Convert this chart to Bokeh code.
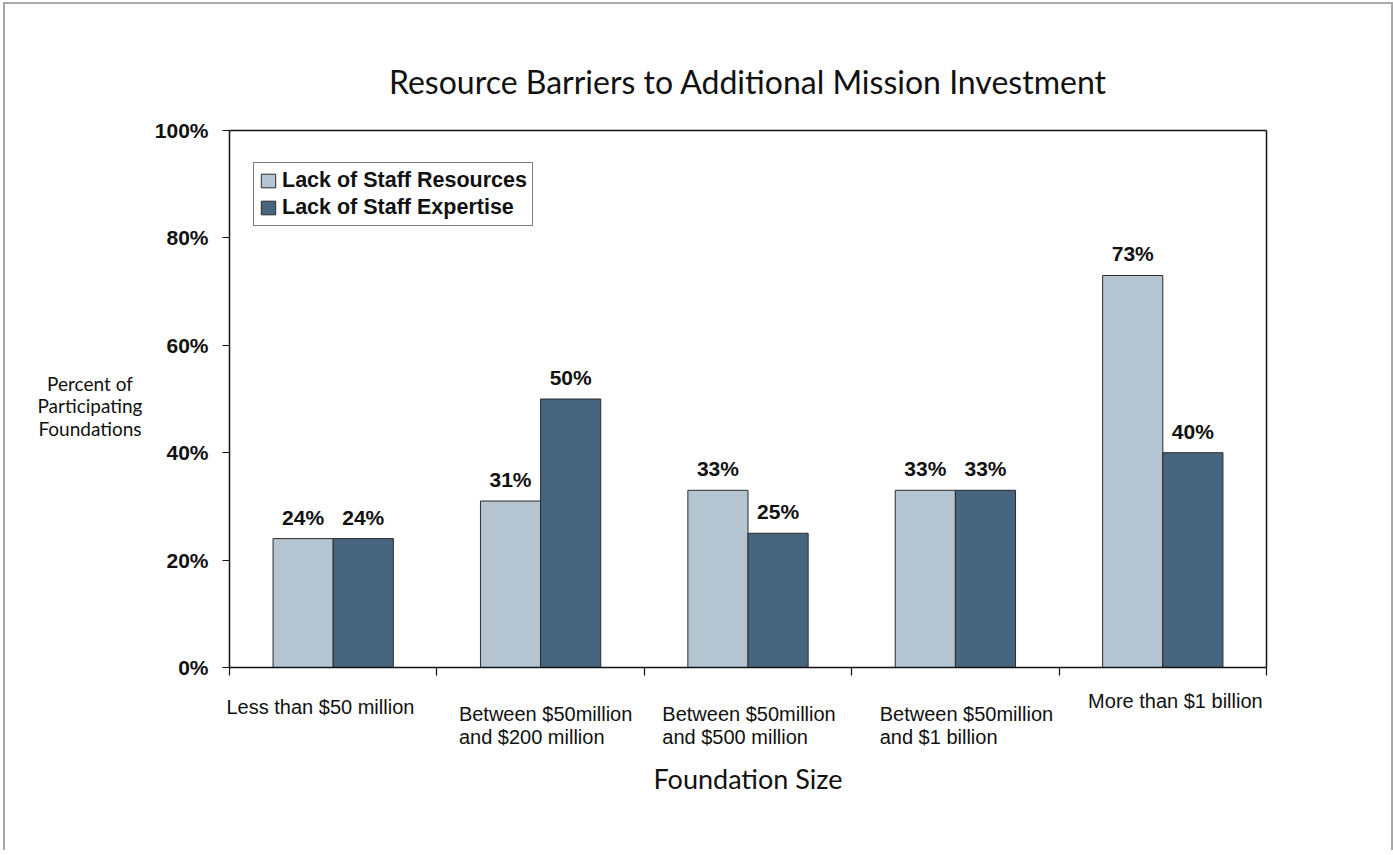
from bokeh.plotting import figure
from bokeh.models import (ColumnDataSource, Range1d, FixedTicker, Legend,
                          LegendItem, LabelSet, LinearAxis)
from bokeh.core.properties import value
from bokeh.embed import file_html
from bokeh.resources import INLINE

# ---------------- data ----------------
title_text = "Resource Barriers to Additional Mission Investment"
x_title = "Foundation Size"
y_title_lines = ["Percent of", "Participating", "Foundations"]
category_lines = [
    ["Less than $50 million"],
    ["Between $50million", "and $200 million"],
    ["Between $50million", "and $500 million"],
    ["Between $50million", "and $1 billion"],
    ["More than $1 billion"],
]
series_names = ["Lack of Staff Resources", "Lack of Staff Expertise"]
staff_resources = [24, 31, 33, 33, 73]
staff_expertise = [24, 50, 25, 33, 40]
y_ticks = [0, 20, 40, 60, 80, 100]
y_tick_labels = ["0%", "20%", "40%", "60%", "80%", "100%"]

# ---------------- styles / layout ----------------
W, H = 1393, 850
FL, FT = 229, 130          # plot area left / top (px)
FW, FH = 1037, 537         # plot area width / height (px)
LIGHT = "#b4c4d1"
DARK = "#47657f"
BAR_LINE = "#2b2b2b"
TXT = "#111111"
HUMANIST = "Lato"
ARIAL = "Liberation Sans"

n = len(category_lines)
px_x = FW / n            # px per category unit
px_y = FH / 100.0        # px per percent


def dx(px):
    return px / px_x


def dy(px):
    return px / px_y


x_range = Range1d(-dx(FL), n + dx(W - FL - FW))
y_range = Range1d(-dy(H - FT - FH), 100 + dy(FT))

p = figure(width=W, height=H, x_range=x_range, y_range=y_range,
           x_axis_type=None, y_axis_type=None, min_border=0,
           output_backend="svg", toolbar_location=None)
p.styles = {"background": "white",
            "box-shadow": "inset 3px 2px 0 0 #ffffff, inset 5px 4px 0 0 #a8a8a8, "
                          "inset -2px 0 0 0 #a8a8a8"}
p.grid.visible = False
p.background_fill_color = None
p.border_fill_color = None
p.outline_line_color = None


def style_axis(ax):
    ax.axis_line_color = TXT
    ax.axis_line_width = 1.5
    ax.major_tick_line_color = TXT
    ax.major_tick_line_width = 1.2
    ax.minor_tick_line_color = None
    ax.major_tick_in = 0


yaxis = LinearAxis(fixed_location=0, bounds=(0, 100),
                   ticker=FixedTicker(ticks=y_ticks),
                   major_label_overrides={t: l for t, l in zip(y_ticks, y_tick_labels)},
                   major_label_text_font=ARIAL, major_label_text_font_style="bold",
                   major_label_text_font_size="21px", major_label_text_color=TXT,
                   major_tick_out=7, major_label_standoff=14)
style_axis(yaxis)
p.add_layout(yaxis, "left")

xaxis = LinearAxis(fixed_location=0, bounds=(0, n),
                   ticker=FixedTicker(ticks=list(range(n + 1))),
                   major_label_text_font_size="0px", major_tick_out=8)
style_axis(xaxis)
p.add_layout(xaxis, "below")

top_axis = LinearAxis(fixed_location=100, bounds=(0, n), ticker=FixedTicker(ticks=[]),
                      major_label_text_font_size="0px")
style_axis(top_axis)
p.add_layout(top_axis, "above")

right_axis = LinearAxis(fixed_location=n, bounds=(0, 100), ticker=FixedTicker(ticks=[]),
                        major_label_text_font_size="0px")
style_axis(right_axis)
p.add_layout(right_axis, "right")

# bars
BAR_W = 0.29
xs_res = [i + 0.5 - BAR_W / 2 for i in range(n)]
xs_exp = [i + 0.5 + BAR_W / 2 for i in range(n)]
src_res = ColumnDataSource(dict(x=xs_res, top=staff_resources,
                                lbl=[f"{v}%" for v in staff_resources]))
src_exp = ColumnDataSource(dict(x=xs_exp, top=staff_expertise,
                                lbl=[f"{v}%" for v in staff_expertise]))
r1 = p.vbar(x="x", top="top", bottom=0, width=BAR_W, source=src_res,
            fill_color=LIGHT, line_color=BAR_LINE, line_width=1)
r2 = p.vbar(x="x", top="top", bottom=0, width=BAR_W, source=src_exp,
            fill_color=DARK, line_color=BAR_LINE, line_width=1)

for src in (src_res, src_exp):
    p.add_layout(LabelSet(x="x", y="top", text="lbl", source=src,
                          y_offset=14, text_align="center",
                          text_baseline="alphabetic",
                          text_font=value(ARIAL), text_font_style="bold",
                          text_font_size="21px", text_color=TXT))

# legend
legend = Legend(items=[LegendItem(label=series_names[0], renderers=[r1]),
                       LegendItem(label=series_names[1], renderers=[r2])],
                location=(253, H - 226), orientation="vertical",
                label_text_font=ARIAL, label_text_font_style="bold",
                label_text_font_size="21.5px", label_text_color=TXT,
                glyph_width=18, glyph_height=17, label_height=24,
                label_standoff=5, padding=5, spacing=2, margin=0,
                border_line_color="black", border_line_width=1,
                background_fill_color="white", background_fill_alpha=1)
p.add_layout(legend, "center")


def add_texts(xs, ys, texts, font, size, align):
    src = ColumnDataSource(dict(x=xs, y=ys, t=texts))
    p.add_layout(LabelSet(x="x", y="y", text="t", source=src,
                          text_align=align, text_baseline="alphabetic",
                          text_font=value(font), text_font_size=size,
                          text_color=TXT))


# titles
add_texts([n / 2], [100 + dy(FT - 93)], [title_text], HUMANIST, "32px", "center")
add_texts([n / 2], [-dy(788 - (FT + FH))], [x_title], HUMANIST, "27px", "center")
add_texts([-dx(FL - 89.5)] * len(y_title_lines),
          [dy(FT + FH - 390 - 22.5 * k) for k in range(len(y_title_lines))],
          y_title_lines, HUMANIST, "19px", "center")

# category labels (left aligned, offsets in px from category boundary)
cat_dx_px = [-3, 22, 18, 28, 29]
cat_base_px = [46, 53, 53, 53, 40]
cx, cy, ct = [], [], []
for i, lines in enumerate(category_lines):
    for k, line in enumerate(lines):
        cx.append(i + dx(cat_dx_px[i]))
        cy.append(-dy(cat_base_px[i] + 23 * k))
        ct.append(line)
add_texts(cx, cy, ct, ARIAL, "20px", "left")

open("out.html", "w").write(file_html(p, INLINE))
